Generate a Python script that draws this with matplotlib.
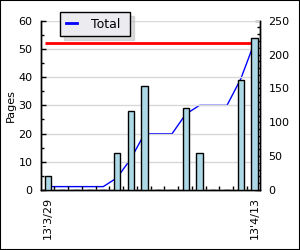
import numpy as np
import matplotlib
matplotlib.use('Agg')
import matplotlib.pyplot as plt
from matplotlib.patches import Rectangle

# pages read per day, 13'3/29 .. 13'4/13
pages = [5, 0, 0, 0, 0, 13, 28, 37, 0, 0, 29, 13, 0, 0, 39, 54]
first_label = "13'3/29"
last_label = "13'4/13"
goal = 52
total = np.cumsum(pages)

days = np.arange(len(pages))

fig = plt.figure(figsize=(3, 2.5), dpi=100)
fig.patch.set_facecolor('white')
ax = fig.add_axes([41/300, 1 - 190/250, 219/300, (190 - 20.7)/250])
ax2 = ax.twinx()
ax.set_zorder(ax2.get_zorder() + 1)
ax.patch.set_visible(False)

ax2.plot(days, total, color='blue', lw=1, label='Total')
ax.bar(days, pages, width=0.44, color='#add8e6', edgecolor='black', lw=1, zorder=3)
ax.hlines(goal, -0.25, 15, color='red', lw=2, zorder=2)

ax.set_xlim(-0.53, 15.4)
ax.set_ylim(0, 60)
ax2.set_ylim(0, 250)

ax.set_yticks(np.arange(0, 61, 10))
ax.set_yticks(np.arange(0, 61, 5), minor=True)
ax2.set_yticks(np.arange(0, 251, 50))
ax2.set_yticks(np.arange(0, 251, 10), minor=True)
ax.grid(axis='y', color='#d8d8d8', lw=1, zorder=0)
ax.set_axisbelow(True)

ax.set_xticks([0, 15])
ax.set_xticklabels([first_label, last_label], rotation=90, fontsize=8)
ax.set_xticks(days[:-1] + 0.45, minor=True)
ax.tick_params(axis='x', which='major', length=0, pad=5)
ax.tick_params(axis='x', which='minor', direction='in', length=3, width=1)
ax.tick_params(axis='y', which='major', direction='in', length=3.5, width=1, labelsize=8, pad=6)
ax.tick_params(axis='y', which='minor', direction='in', length=2.5, width=1)
ax2.tick_params(axis='y', which='major', direction='in', length=3.5, width=1, labelsize=8, pad=6)
ax2.tick_params(axis='y', which='minor', direction='in', length=2.5, width=1)

for a in (ax, ax2):
    a.spines['top'].set_visible(False)
    for s in ('left', 'right', 'bottom'):
        a.spines[s].set_linewidth(1)

ax.set_ylabel('Pages', fontsize=8, labelpad=2)

h, l = ax2.get_legend_handles_labels()
leg = ax.legend(h, l, loc='upper left', bbox_to_anchor=(60/300, 1 - 12/250),
                bbox_transform=fig.transFigure, fontsize=9, fancybox=False,
                framealpha=1, facecolor='#ecebf0', edgecolor='black',
                shadow={'color': '#b8b8b8', 'ox': 3, 'oy': -3},
                handlelength=0.9, handletextpad=1.1, borderpad=0.45,
                borderaxespad=0)
leg._legend_box.sep = 0
leg.get_frame().set_linewidth(1)
for line in leg.get_lines():
    line.set_linewidth(2)
# a little extra room on the right of the legend text
for t in leg.get_texts():
    t.set_text('Total ')

fig.add_artist(Rectangle((0, 0), 1, 1, transform=fig.transFigure,
                         fill=False, edgecolor='black', lw=1.5))

fig.savefig('out.png', dpi=100)
